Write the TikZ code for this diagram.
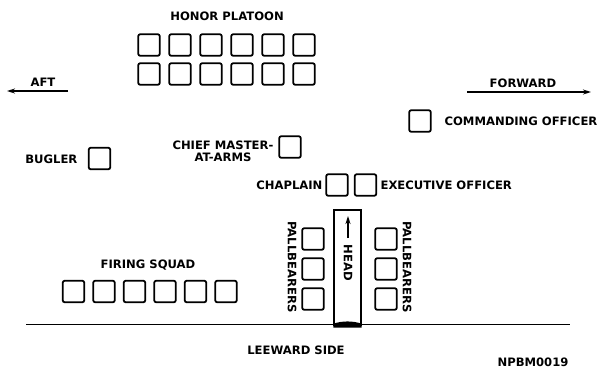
\documentclass[tikz,border=0pt]{standalone}
\usepackage{fontspec}
\setmainfont{DejaVu Sans}
\usetikzlibrary{arrows.meta,calc}
\tikzset{
  seat/.style={draw, line width=1.8pt, rounded corners=2pt,
    minimum width=21.5pt, minimum height=21.5pt, inner sep=0pt},
  lbl/.style={font=\bfseries\fontsize{11.6}{12.4}\selectfont, inner sep=1pt},
  dirarrow/.style={line width=1.3pt, -{Stealth[length=8pt,width=5pt]}},
}
\begin{document}
\begin{tikzpicture}[x=1pt, y=-1pt, line width=1.2pt]
  \useasboundingbox (0,0) rectangle (597,368);
  % honor platoon, two ranks of six
  \node[lbl] (honor) at (227,16) {HONOR PLATOON};
  \foreach \i in {0,...,5}{
    \node[seat] (hpa\i) at ({149+31*\i},45) {};
    \node[seat] (hpb\i) at ({149+31*\i},74) {};}
  % directions
  \node[lbl] (aft) at (43,82) {AFT};
  \coordinate (aftS) at (68,91);
  \coordinate (aftE) at (7,91);
  \draw[dirarrow] (aftS) -- (aftE);
  \node[lbl] (fwd) at (523,83) {FORWARD};
  \coordinate (fwdS) at (467,92);
  \coordinate (fwdE) at (591,92);
  \draw[dirarrow] (fwdS) -- (fwdE);
  % officers and others
  \node[seat] (co) at (420,121) {};
  \node[lbl, anchor=west] (colbl) at (443,121) {COMMANDING OFFICER};
  \node[seat] (bugler) at (99.5,158.5) {};
  \node[lbl, anchor=east] (buglbl) at (79,159) {BUGLER};
  \node[seat] (cmaa) at (290,147) {};
  \node[lbl, anchor=east, align=center] (cmaalbl) at (275,151)
    {CHIEF MASTER-\\AT-ARMS};
  \node[seat] (chap) at (337,185) {};
  \node[seat] (xo) at (365.5,185) {};
  \node[lbl, anchor=east] (chaplbl) at (324,185) {CHAPLAIN};
  \node[lbl, anchor=west] (xolbl) at (379,185) {EXECUTIVE OFFICER};
  % casket and pallbearers
  \node[draw, line width=1.4pt, minimum width=27pt, minimum height=115pt,
    inner sep=0pt] (casket) at (347.5,267.5) {};
  \fill ($(casket.south west)+(0,-2)$) .. controls +(9,-3) and +(-9,-3) ..
    ($(casket.south east)+(0,-2)$) -- ++(0,4) -- ($(casket.south west)+(0,2)$) -- cycle;
  \coordinate (headS) at (348,238);
  \coordinate (headE) at (348,216);
  \draw[line width=1.5pt, -{Stealth[length=8pt,width=5pt]}] (headS) -- (headE);
  \node[lbl, rotate=-90] (head) at (348,263) {HEAD};
  \foreach \j in {0,1,2}{
    \node[seat] (pbl\j) at (313,{239+30*\j}) {};
    \node[seat] (pbr\j) at (386,{239+30*\j}) {};}
  \node[lbl, rotate=-90] (pbllbl) at (292,267) {PALLBEARERS};
  \node[lbl, rotate=-90] (pbrlbl) at (407,267) {PALLBEARERS};
  % firing squad
  \node[lbl] (firing) at (148,265) {FIRING SQUAD};
  \foreach \i in {0,...,5}
    \node[seat] (fs\i) at ({73.5+30.5*\i},291.5) {};
  % ship's side
  \coordinate (sideW) at (26,324.5);
  \coordinate (sideE) at (570,324.5);
  \draw[line width=1.6pt] (sideW) -- (sideE);
  \node[lbl] (leeward) at (296,350) {LEEWARD SIDE};
  \node[lbl] (code) at (533,362) {NPBM0019};
\end{tikzpicture}
\end{document}
